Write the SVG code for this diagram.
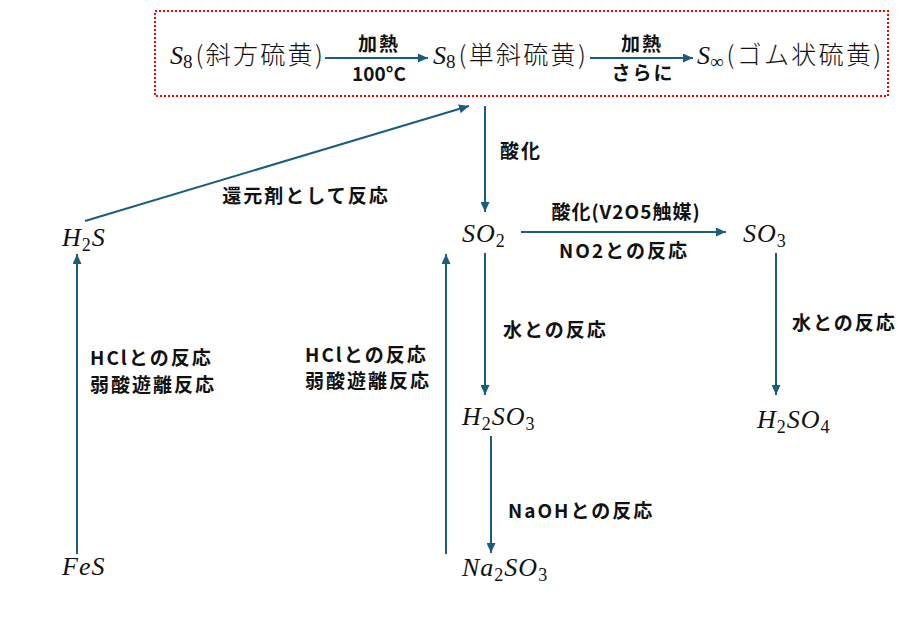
<svg xmlns="http://www.w3.org/2000/svg" width="916" height="622" viewBox="0 0 916 622">
<style>
.lbl{font-family:"Noto Sans CJK JP","Noto Sans",sans-serif;font-weight:700;font-size:19px;letter-spacing:2px;fill:#111}
.f{font-family:"Liberation Serif","Noto Sans CJK JP",serif;font-style:italic;font-size:26px;letter-spacing:1px;fill:#111}
.f .s{font-style:normal;font-size:18px}
.t{font-family:"Liberation Serif","Noto Sans CJK JP",serif;font-style:italic;font-size:26px;fill:#111}
.t .s{font-style:normal;font-size:19px}
.t .j{font-family:"Noto Sans CJK JP",sans-serif;font-style:normal;font-weight:300;font-size:25px;letter-spacing:2.3px}
.c{stroke:#1a5e7f;stroke-width:2;fill:none;marker-end:url(#ah)}
</style>
<defs>
<marker id="ah" markerUnits="userSpaceOnUse" markerWidth="10" markerHeight="9" refX="10" refY="4.5" orient="auto">
<path d="M0,0 L10,4.5 L0,9 z" fill="#1a5e7f"/>
</marker>
</defs>
<rect width="916" height="622" fill="#fff"/>
<g id="box">
<rect x="155" y="11" width="733" height="85" fill="none" stroke="#ff0000" stroke-width="2" stroke-dasharray="2,2"/>
</g>
<g id="connectors">
<line class="c" x1="325" y1="58" x2="428" y2="58"/>
<line class="c" x1="590" y1="58" x2="693" y2="58"/>
<line class="c" x1="85" y1="221" x2="469" y2="106"/>
<line class="c" x1="485" y1="106" x2="485" y2="212"/>
<line class="c" x1="521" y1="232" x2="726" y2="232"/>
<line class="c" x1="485" y1="253" x2="485" y2="395"/>
<line class="c" x1="776" y1="253" x2="776" y2="395"/>
<line class="c" x1="491" y1="436" x2="491" y2="553"/>
<line class="c" x1="77" y1="554" x2="77" y2="254"/>
<line class="c" x1="446" y1="554" x2="446" y2="254"/>
</g>
<g id="labels">
<text class="lbl" x="379" y="51" text-anchor="middle">加熱</text>
<text class="lbl" x="379" y="81" text-anchor="middle" style="letter-spacing:0">100°C</text>
<text class="lbl" x="642" y="51" text-anchor="middle">加熱</text>
<text class="lbl" x="643" y="80" text-anchor="middle">さらに</text>
<text class="lbl" x="306" y="203" text-anchor="middle" style="letter-spacing:2px">還元剤として反応</text>
<text class="lbl" x="500" y="158">酸化</text>
<text class="lbl" x="626" y="219" text-anchor="middle" style="letter-spacing:1px">酸化(V2O5触媒)</text>
<text class="lbl" x="624" y="258" text-anchor="middle">NO2との反応</text>
<text class="lbl" x="503" y="337">水との反応</text>
<text class="lbl" x="792" y="330">水との反応</text>
<text class="lbl" x="90" y="365">HClとの反応<tspan x="90" dy="27">弱酸遊離反応</tspan></text>
<text class="lbl" x="305" y="362">HClとの反応<tspan x="305" dy="26">弱酸遊離反応</tspan></text>
<text class="lbl" x="508" y="518">NaOHとの反応</text>
</g>
<g id="s8-rhombic"><text class="t" x="170" y="64">S<tspan class="s" dy="4">8</tspan><tspan class="j" dy="-4" dx="3">(斜方硫黄)</tspan></text></g>
<g id="s8-monoclinic"><text class="t" x="433" y="64">S<tspan class="s" dy="4">8</tspan><tspan class="j" dy="-4" dx="3">(単斜硫黄)</tspan></text></g>
<g id="s-inf"><text class="t" x="697" y="64">S<tspan class="s" dy="4">∞</tspan><tspan class="j" dy="-4" dx="3">(ゴム状硫黄)</tspan></text></g>
<g id="h2s"><text class="f" x="62" y="246">H<tspan class="s" dy="5">2</tspan><tspan dy="-5">S</tspan></text></g>
<g id="so2"><text class="f" x="462" y="242">SO<tspan class="s" dy="5">2</tspan></text></g>
<g id="so3"><text class="f" x="743" y="242">SO<tspan class="s" dy="5">3</tspan></text></g>
<g id="h2so3"><text class="f" x="462" y="425">H<tspan class="s" dy="5">2</tspan><tspan dy="-5">SO</tspan><tspan class="s" dy="5">3</tspan></text></g>
<g id="h2so4"><text class="f" x="757" y="428">H<tspan class="s" dy="5">2</tspan><tspan dy="-5">SO</tspan><tspan class="s" dy="5">4</tspan></text></g>
<g id="fes"><text class="f" x="62" y="575">FeS</text></g>
<g id="na2so3"><text class="f" x="462" y="576">Na<tspan class="s" dy="5">2</tspan><tspan dy="-5">SO</tspan><tspan class="s" dy="5">3</tspan></text></g>
</svg>
